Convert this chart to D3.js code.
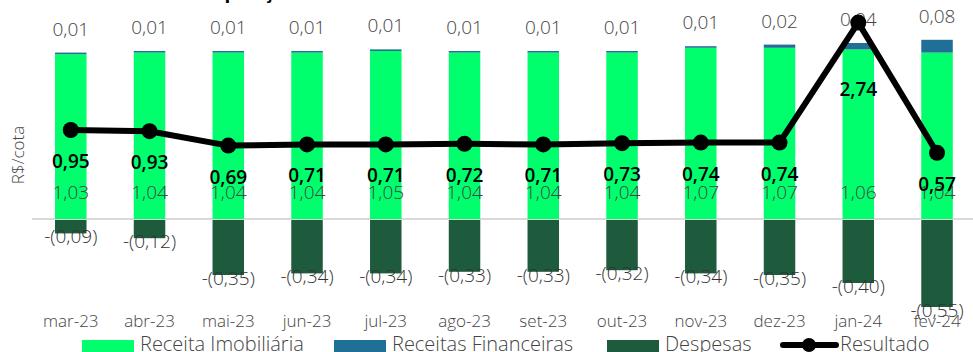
<!DOCTYPE html>
<html>
<head>
<meta charset="utf-8">
<script src="https://cdn.jsdelivr.net/npm/d3@7"></script>
<style>
  body { margin: 0; background: #fff; }
  svg { display: block; font-family: "Open Sans", sans-serif; }
</style>
</head>
<body>
<div id="chart"></div>
<script>
// data
var months = ["mar-23","abr-23","mai-23","jun-23","jul-23","ago-23","set-23","out-23","nov-23","dez-23","jan-24","fev-24"];
var receitaImob = [1.03,1.04,1.04,1.04,1.05,1.04,1.04,1.04,1.07,1.07,1.06,1.04];
var receitasFin = [0.01,0.01,0.01,0.01,0.01,0.01,0.01,0.01,0.01,0.02,0.04,0.08];
var despesas = [-0.09,-0.12,-0.35,-0.34,-0.34,-0.33,-0.33,-0.32,-0.34,-0.35,-0.40,-0.55];
var resultado = [0.95,0.93,0.69,0.71,0.71,0.72,0.71,0.73,0.74,0.74,2.74,0.57];
var legendNames = ["Receita Imobiliária","Receitas Financeiras","Despesas","Resultado"];

var W = 973, H = 352;
var cGreen = "#00ff6d", cBlue = "#1f6f96", cDark = "#1e5a3c", cText = "#444444";

var svg = d3.select("#chart").append("svg")
            .attr("width", W)
            .attr("height", H);

var x = d3.scaleBand().domain(months).range([31.4, 976.4]).paddingInner(0.6).paddingOuter(0.3);
var y = d3.scaleLinear().domain([-0.6, 1.2]).range([219 + 0.6*160, 219 - 1.2*160]);
var yLine = d3.scaleLinear().domain([0, 3]).range([187, 7]);

var fmt = function(v){ return d3.format(".2f")(v).replace(".", ","); };

// clipped title at the very top
svg.append("text")
   .attr("x", 182).attr("y", -2)
   .attr("font-size", 19).attr("font-weight", 700).attr("fill", "#000")
   .text("Composição do Resultado");

// zero line
svg.append("line")
   .attr("x1", 32).attr("x2", W)
   .attr("y1", y(0)).attr("y2", y(0))
   .attr("stroke", "#d9d9d9").attr("stroke-width", 2);

var rows = months.map(function(m, i){
  return {m: m, imob: receitaImob[i], fin: receitasFin[i], desp: despesas[i], res: resultado[i]};
});

var g = svg.append("g");
// receita imobiliaria
g.selectAll(".imob").data(rows).enter().append("rect")
 .attr("class", "imob")
 .attr("x", function(d){ return x(d.m); })
 .attr("width", x.bandwidth())
 .attr("y", function(d){ return y(d.imob); })
 .attr("height", function(d){ return y(0) - y(d.imob); })
 .attr("fill", cGreen);
// receitas financeiras stacked on top
g.selectAll(".fin").data(rows).enter().append("rect")
 .attr("class", "fin")
 .attr("x", function(d){ return x(d.m); })
 .attr("width", x.bandwidth())
 .attr("y", function(d){ return y(d.imob + d.fin); })
 .attr("height", function(d){ return y(d.imob) - y(d.imob + d.fin); })
 .attr("fill", cBlue);
// despesas
g.selectAll(".desp").data(rows).enter().append("rect")
 .attr("class", "desp")
 .attr("x", function(d){ return x(d.m); })
 .attr("width", x.bandwidth())
 .attr("y", y(0) + 1)
 .attr("height", function(d){ return y(d.desp) - y(0) - 1; })
 .attr("fill", cDark);

// bar labels
var cx = function(d){ return x(d.m) + x.bandwidth()/2; };
g.selectAll(".lImob").data(rows).enter().append("text")
 .attr("x", cx).attr("y", y(0) - 27)
 .attr("text-anchor", "middle").attr("dominant-baseline", "central")
 .attr("font-size", 19).attr("font-weight", 300).attr("fill", cText)
 .text(function(d){ return fmt(d.imob); });
g.selectAll(".lFin").data(rows).enter().append("text")
 .attr("x", cx).attr("y", function(d){ return y(d.imob + d.fin) - 24; })
 .attr("text-anchor", "middle").attr("dominant-baseline", "central")
 .attr("font-size", 19).attr("font-weight", 300).attr("fill", cText)
 .text(function(d){ return fmt(d.fin); });
g.selectAll(".lDesp").data(rows).enter().append("text")
 .attr("x", cx).attr("y", function(d){ return y(d.desp) + 3; })
 .attr("text-anchor", "middle").attr("dominant-baseline", "central")
 .attr("font-size", 19).attr("font-weight", 300).attr("fill", "#333333")
 .text(function(d){ return "-(" + fmt(-d.desp) + ")"; });

// resultado line
var line = d3.line().x(cx).y(function(d){ return yLine(d.res); });
svg.append("path").datum(rows)
   .attr("d", line)
   .attr("fill", "none").attr("stroke", "#000").attr("stroke-width", 6)
   .attr("stroke-linejoin", "round");
svg.selectAll(".dot").data(rows).enter().append("circle")
   .attr("cx", cx).attr("cy", function(d){ return yLine(d.res); })
   .attr("r", 8).attr("fill", "#000");
// labels sit below the point, pushed down under the bar-top label when the point is high
svg.selectAll(".lRes").data(rows).enter().append("text")
   .attr("x", cx)
   .attr("y", function(d){ return Math.max(yLine(d.res) + 31, y(d.imob) + 40); })
   .attr("text-anchor", "middle").attr("dominant-baseline", "central")
   .attr("font-size", 19).attr("font-weight", 600).attr("fill", "#000")
   .text(function(d){ return fmt(d.res); });

// x axis labels
var xAxis = d3.axisBottom(x).tickSize(0).tickPadding(0);
svg.append("g")
   .attr("transform", "translate(0,315)")
   .call(xAxis)
   .call(function(a){ a.select(".domain").remove(); })
   .selectAll("text")
   .attr("font-size", 17).attr("font-weight", 300).attr("fill", cText).attr("font-family", "Open Sans");

// y title
svg.append("text")
   .attr("transform", "translate(24,155) rotate(-90)")
   .attr("text-anchor", "middle")
   .attr("font-size", 17).attr("font-weight", 300).attr("fill", cText)
   .text("R$/cota");

// legend
var leg = svg.append("g");
var legX = [82, 334, 607];
var legCol = [cGreen, cBlue, cDark];
[0,1,2].forEach(function(i){
  leg.append("rect").attr("x", legX[i]).attr("y", 340).attr("width", 52).attr("height", 14).attr("fill", legCol[i]);
  leg.append("text").attr("x", legX[i] + 58).attr("y", 351)
     .attr("font-size", 20).attr("font-weight", 300).attr("fill", cText).text(legendNames[i]);
});
leg.append("line").attr("x1", 783).attr("x2", 836).attr("y1", 345).attr("y2", 345)
   .attr("stroke", "#000").attr("stroke-width", 6).attr("stroke-linecap", "round");
leg.append("circle").attr("cx", 809).attr("cy", 345).attr("r", 7).attr("fill", "#000");
leg.append("text").attr("x", 840).attr("y", 351)
   .attr("font-size", 20).attr("font-weight", 300).attr("fill", cText).text(legendNames[3]);
</script>
</body>
</html>
